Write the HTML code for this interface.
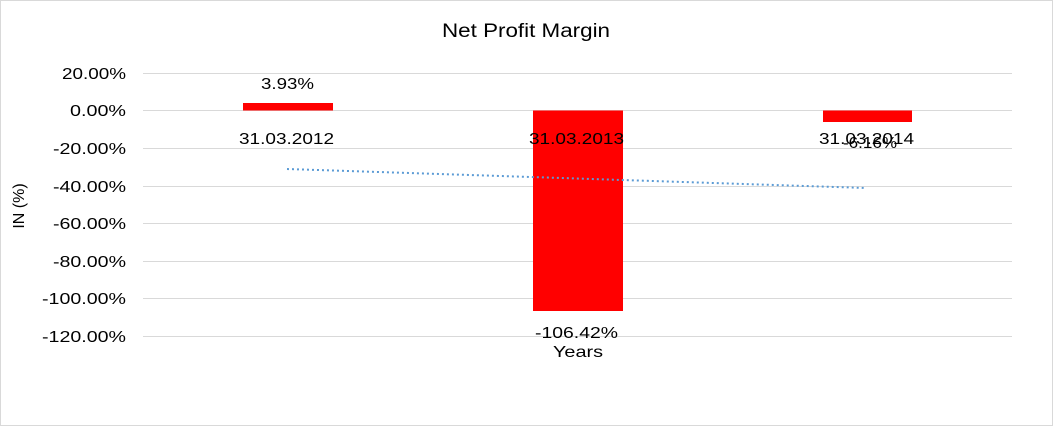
<!DOCTYPE html>
<html><head><style>body{margin:0;background:#fff}svg{display:block}</style></head><body>
<svg width="1053" height="426" xmlns="http://www.w3.org/2000/svg" font-family="Liberation Sans, Arial, sans-serif">
<rect x="0.5" y="0.5" width="1052" height="425" fill="#fff" stroke="#d9d9d9"/>
<text x="442" y="37" font-size="19" textLength="168" lengthAdjust="spacingAndGlyphs" fill="#000">Net Profit Margin</text>
<g stroke="#d9d9d9" stroke-width="1">
<line x1="143" x2="1012" y1="73.5" y2="73.5"/>
<line x1="143" x2="1012" y1="110.5" y2="110.5"/>
<line x1="143" x2="1012" y1="148.5" y2="148.5"/>
<line x1="143" x2="1012" y1="186.5" y2="186.5"/>
<line x1="143" x2="1012" y1="223.5" y2="223.5"/>
<line x1="143" x2="1012" y1="261.5" y2="261.5"/>
<line x1="143" x2="1012" y1="298.5" y2="298.5"/>
<line x1="143" x2="1012" y1="336.5" y2="336.5"/>
</g>
<g font-size="16" fill="#000" lengthAdjust="spacingAndGlyphs">
<text x="62" y="79" textLength="64" lengthAdjust="spacingAndGlyphs">20.00%</text>
<text x="70" y="116" textLength="56" lengthAdjust="spacingAndGlyphs">0.00%</text>
<text x="53" y="154" textLength="73" lengthAdjust="spacingAndGlyphs">-20.00%</text>
<text x="53" y="192" textLength="73" lengthAdjust="spacingAndGlyphs">-40.00%</text>
<text x="53" y="229" textLength="73" lengthAdjust="spacingAndGlyphs">-60.00%</text>
<text x="53" y="267" textLength="73" lengthAdjust="spacingAndGlyphs">-80.00%</text>
<text x="42" y="304" textLength="84" lengthAdjust="spacingAndGlyphs">-100.00%</text>
<text x="42" y="342" textLength="84" lengthAdjust="spacingAndGlyphs">-120.00%</text>
</g>
<text transform="translate(24,206) rotate(-90)" font-size="16" text-anchor="middle">IN (%)</text>
<rect x="243" y="103" width="90" height="7.5" fill="#ff0000"/>
<rect x="533" y="110.5" width="90" height="200.5" fill="#ff0000"/>
<rect x="823" y="110.5" width="89" height="11.5" fill="#ff0000"/>
<line x1="287" y1="169" x2="866" y2="188" stroke="#5b9bd5" stroke-width="2" stroke-dasharray="2,3"/>
<g font-size="16" fill="#000">
<text x="261" y="89" textLength="53" lengthAdjust="spacingAndGlyphs">3.93%</text>
<text x="239" y="144" textLength="95" lengthAdjust="spacingAndGlyphs">31.03.2012</text>
<text x="529" y="144" textLength="95" lengthAdjust="spacingAndGlyphs">31.03.2013</text>
<text x="819" y="144" textLength="95" lengthAdjust="spacingAndGlyphs">31.03.2014</text>
<text x="843" y="148" textLength="54" lengthAdjust="spacingAndGlyphs">-6.16%</text>
<text x="535" y="338" textLength="83" lengthAdjust="spacingAndGlyphs">-106.42%</text>
<text x="553" y="357" textLength="50" lengthAdjust="spacingAndGlyphs">Years</text>
</g>
</svg>
</body></html>
